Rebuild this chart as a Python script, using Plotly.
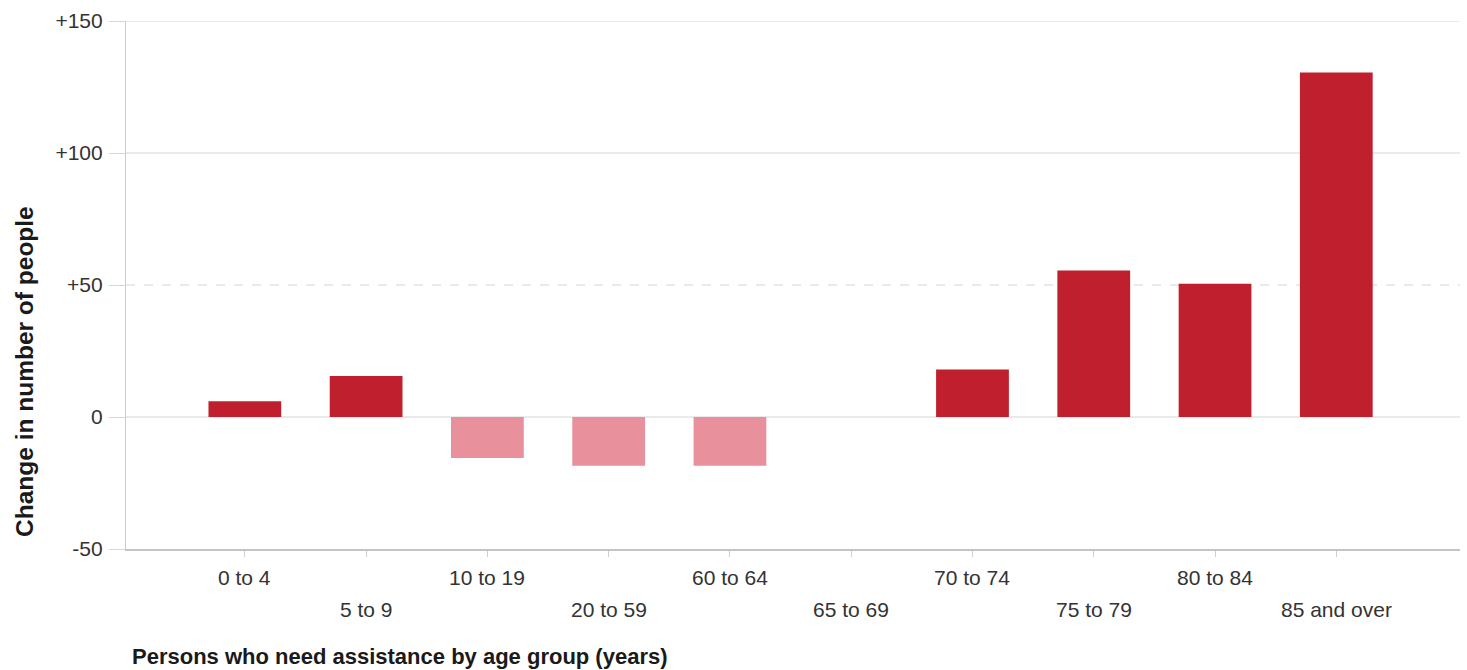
import plotly.graph_objects as go

# Data
age_groups = ['0 to 4', '5 to 9', '10 to 19', '20 to 59', '60 to 64',
              '65 to 69', '70 to 74', '75 to 79', '80 to 84', '85 and over']
change = [6, 15.5, -15.5, -18.5, -18.5, 0, 18, 55.5, 50.5, 130.5]

y_ticks = [-50, 0, 50, 100, 150]
y_ticktext = ['-50', '0', '+50', '+100', '+150']

pos_color = '#C01F2E'
neg_color = '#E8909B'
bar_colors = [pos_color if v >= 0 else neg_color for v in change]

fig = go.Figure()

fig.add_trace(go.Bar(x=age_groups, y=change, marker=dict(color=bar_colors, line=dict(width=0)),
                     width=0.6, showlegend=False))

# Gridlines (the +50 line is dashed in the original)
for v in y_ticks:
    if v == -50:
        continue
    fig.add_hline(y=v, line=dict(color='#D6D6D6', width=1.2, dash='dash' if v == 50 else 'solid'),
                  layer='below')

# Category labels staggered on two rows
for i, lab in enumerate(age_groups):
    fig.add_annotation(x=lab, y=0, xref='x', yref='paper', text=lab, showarrow=False,
                       yanchor='middle', yshift=-28 if i % 2 == 0 else -60,
                       font=dict(size=21, color='#333333'))

fig.add_annotation(x=-0.0765, y=0.337, xref='paper', yref='paper',
                   text='<b>Change in number of people</b>', textangle=-90,
                   showarrow=False, xanchor='center', yanchor='middle',
                   font=dict(size=24.5, color='#1a1a1a'))
fig.add_annotation(x=0.003, y=-0.2045, xref='paper', yref='paper',
                   text='<b>Persons who need assistance by age group (years)</b>',
                   showarrow=False, xanchor='left', yanchor='middle',
                   font=dict(size=22, color='#1a1a1a'))

fig.update_layout(
    width=1467,
    height=670,
    margin=dict(l=126, r=7, t=21, b=121),
    plot_bgcolor='white',
    paper_bgcolor='white',
    font=dict(family='Liberation Sans, Arial, sans-serif', size=21, color='#333333'),
    bargap=0.4,
    xaxis=dict(type='category', range=[-0.98, 10.02], showticklabels=False,
               showline=True, linecolor='#C4C4C4', linewidth=1.5,
               ticks='outside', ticklen=6, tickcolor='#D0D0D0', showgrid=False),
    yaxis=dict(range=[-50, 150], tickvals=y_ticks, ticktext=y_ticktext,
               showgrid=False, zeroline=False, showline=True, linecolor='#CCCCCC',
               linewidth=1.2, ticks='outside', ticklen=16, tickcolor='#D6D6D6',
               ticklabelstandoff=2, tickfont=dict(size=21, color='#333333')),
)

# drop the default page margin so the figure sits at the window's corner
fig.write_html('out.html', config={'displayModeBar': False},
               post_script="document.body.style.margin='0';")
